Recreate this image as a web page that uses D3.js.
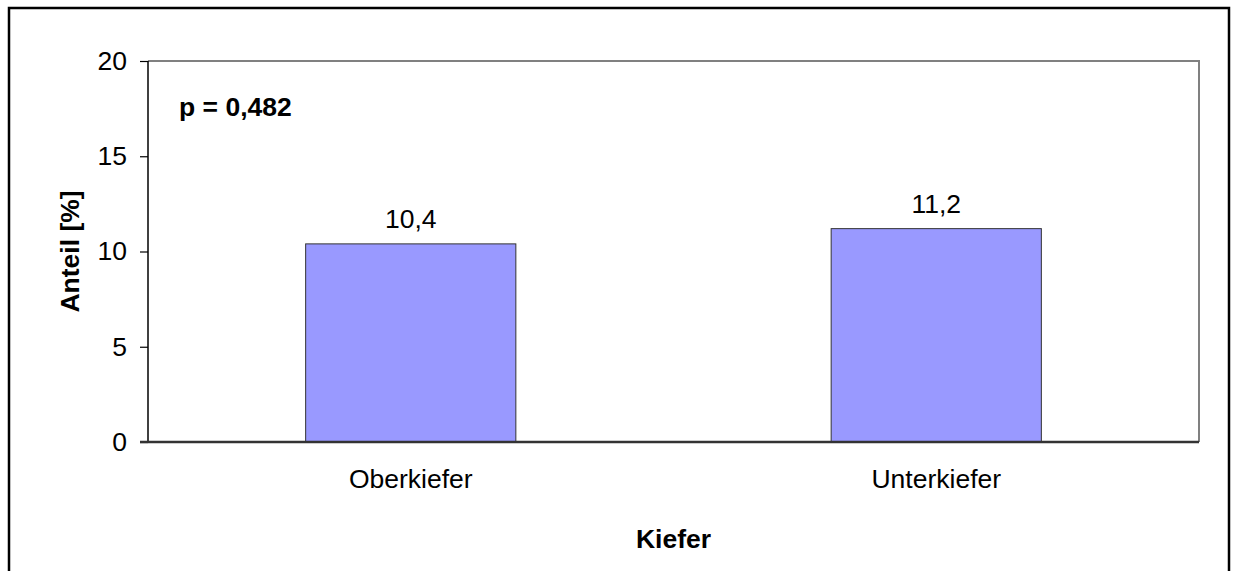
<!DOCTYPE html>
<html><head><meta charset="utf-8">
<script src="https://cdn.jsdelivr.net/npm/d3@7/dist/d3.min.js"></script>
<style>body{margin:0;background:#fff}svg{display:block}text{font-family:"Liberation Sans",Arial,sans-serif}</style>
</head><body>
<svg id="c" width="1233" height="571"></svg>
<script>
const categories = ["Oberkiefer", "Unterkiefer"];
const values = [10.4, 11.2];
const valueLabels = ["10,4", "11,2"];
const yTicks = [0, 5, 10, 15, 20];
const pText = "p = 0,482";
const xTitle = "Kiefer";
const yTitle = "Anteil [%]";

const FS = 26.5;
const svg = d3.select("#c");
const L = 148, R = 1199, T = 61, B = 442;

// outer border
svg.append("rect").attr("x", 9).attr("y", 8).attr("width", 1220).attr("height", 600)
  .attr("fill", "none").attr("stroke", "#000").attr("stroke-width", 2.5);

const x = d3.scaleBand().domain(categories).range([L, R]).paddingInner(0.6).paddingOuter(0.3);
const y = d3.scaleLinear().domain([0, 20]).range([B, T]);

// plot frame top/right
svg.append("path").attr("d", `M${L},${T}H${R}V${B}`).attr("fill", "none")
  .attr("stroke", "#808080").attr("stroke-width", 2);

// bars
svg.selectAll("rect.bar").data(values).join("rect").attr("class", "bar")
  .attr("x", (d, i) => x(categories[i])).attr("width", x.bandwidth())
  .attr("y", d => y(d)).attr("height", d => B - y(d))
  .attr("fill", "#9999ff").attr("stroke", "#333").attr("stroke-width", 1);

// value labels
svg.selectAll("text.val").data(values).join("text").attr("class", "val")
  .attr("x", (d, i) => x(categories[i]) + x.bandwidth() / 2).attr("y", d => y(d) - 16)
  .attr("text-anchor", "middle").attr("font-size", FS).attr("fill", "#000")
  .text((d, i) => valueLabels[i]);

// y axis
const ya = d3.axisLeft(y).tickValues(yTicks).tickSize(8).tickPadding(13).tickFormat(d3.format("d"));
const yg = svg.append("g").attr("transform", `translate(${L},0)`).call(ya);
yg.select(".domain").attr("stroke", "#000").attr("stroke-width", 1.5).attr("d", `M0,${T}V${B}`);
yg.selectAll(".tick line").attr("stroke", "#000").attr("stroke-width", 1.2);
yg.selectAll(".tick text").attr("font-size", FS).attr("fill", "#000").attr("font-family", "Liberation Sans, Arial, sans-serif");

// x axis
const xa = d3.axisBottom(x).tickSize(0).tickPadding(27);
const xg = svg.append("g").attr("transform", `translate(0,${B})`).call(xa);
xg.select(".domain").attr("stroke", "#333").attr("stroke-width", 2.5).attr("d", `M${L - 8},0H${R}`);
xg.selectAll(".tick text").attr("font-size", FS).attr("fill", "#000").attr("font-family", "Liberation Sans, Arial, sans-serif");

// p value
svg.append("text").attr("x", 179).attr("y", 116).attr("font-size", FS).attr("font-weight", "bold").text(pText);

// titles
svg.append("text").attr("x", (L + R) / 2).attr("y", 548).attr("text-anchor", "middle")
  .attr("font-size", FS).attr("font-weight", "bold").text(xTitle);
svg.append("text").attr("transform", `translate(79,${(T + B) / 2}) rotate(-90)`).attr("text-anchor", "middle")
  .attr("font-size", FS).attr("font-weight", "bold").text(yTitle);
</script>
</body></html>
